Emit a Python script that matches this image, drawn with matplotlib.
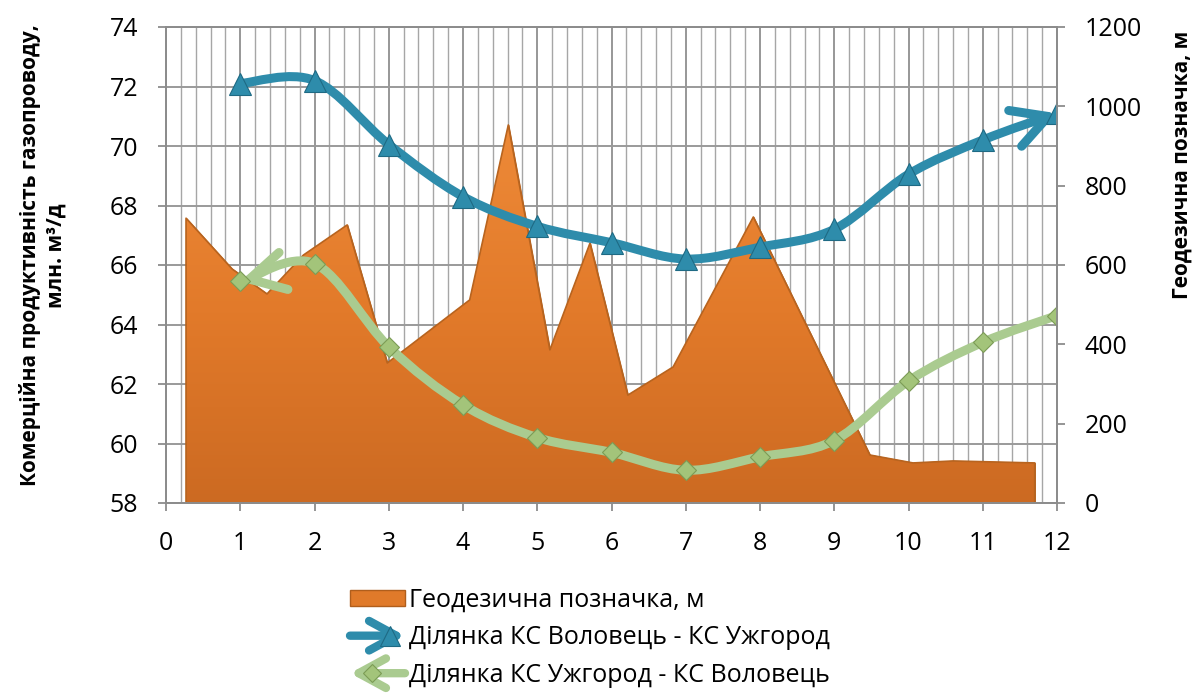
import numpy as np
import matplotlib.pyplot as plt
from matplotlib.path import Path
from matplotlib.patches import FancyArrowPatch, ArrowStyle, Patch
from matplotlib.lines import Line2D
from matplotlib.legend_handler import HandlerBase
from matplotlib.colors import LinearSegmentedColormap
from matplotlib.ticker import MultipleLocator

plt.rcParams['font.family'] = ['Open Sans', 'DejaVu Sans']

# section points along the pipeline
x_pts = [1, 2, 3, 4, 5, 6, 7, 8, 9, 10, 11, 12]
# commercial throughput, mln m3/day
volovets_uzh = [72.1, 72.2, 70.05, 68.3, 67.3, 66.75, 66.2, 66.6, 67.2, 69.05, 70.2, 71.1]
uzh_volovets = [65.45, 66.05, 63.25, 61.3, 60.2, 59.7, 59.1, 59.55, 60.1, 62.1, 63.4, 64.3]

# terrain elevation profile, m
geo_x = [0.27, 0.89, 1.36, 1.85, 2.44, 2.98, 4.09, 4.61, 5.17, 5.71, 6.22, 6.83,
         7.91, 9.48, 10.06, 10.6, 11.7]
geo_m = [718, 590, 527, 625, 701, 353, 512, 953, 386, 655, 272, 343,
         721, 121, 101, 106, 101]

x_ticks = list(range(0, 13))
left_ticks = [58, 60, 62, 64, 66, 68, 70, 72, 74]
right_ticks = [0, 200, 400, 600, 800, 1000, 1200]

label_geo = 'Геодезична позначка, м'
label_vu = 'Ділянка КС Воловець - КС Ужгород'
label_uv = 'Ділянка КС Ужгород - КС Воловець'

BLUE = '#2E8CAB'
BLUE_EDGE = '#1E6A84'
GREEN = '#AACB90'
GREEN_MK = '#A3C47A'
GREEN_EDGE = '#7C9C56'
ORANGE = '#E07A2A'
GRID = '#A6A6A6'
AXIS = '#8C8C8C'


def smooth_path(xs, ys):
    # cubic bezier through the points (spreadsheet style smoothed line)
    pts = np.column_stack([xs, ys]).astype(float)
    n = len(pts)
    verts = [pts[0]]
    codes = [Path.MOVETO]
    for i in range(n - 1):
        p_prev = pts[max(i - 1, 0)]
        p0 = pts[i]
        p1 = pts[i + 1]
        p_next = pts[min(i + 2, n - 1)]
        verts += [p0 + (p1 - p_prev) / 6, p1 - (p_next - p0) / 6, p1]
        codes += [Path.CURVE4] * 3
    return Path(verts, codes)


def arrow_style(kind='->'):
    return ArrowStyle(kind, head_length=0.7, head_width=0.38)


class ArrowLineHandler(HandlerBase):
    def __init__(self, color, marker, mfc, mec, ms, reverse=False):
        super().__init__()
        self.color = color
        self.marker = marker
        self.mfc = mfc
        self.mec = mec
        self.ms = ms
        self.reverse = reverse

    def create_artists(self, legend, orig_handle, xdescent, ydescent,
                       width, height, fontsize, trans):
        y = height / 2 - ydescent
        x0, x1 = -xdescent, width - xdescent
        if self.reverse:
            start, end = (x1, y), (x0, y)
            mx = x0 + 0.4 * (x1 - x0)
        else:
            start, end = (x0, y), (x1, y)
            mx = x0 + 0.72 * (x1 - x0)
        arr = FancyArrowPatch(start, end, arrowstyle=arrow_style(), mutation_scale=28,
                              lw=6, color=self.color, shrinkA=0, shrinkB=0,
                              capstyle='round', joinstyle='round', transform=trans)
        mk = Line2D([mx], [y], marker=self.marker, ms=self.ms, mfc=self.mfc,
                    mec=self.mec, mew=0.8, ls='none', transform=trans)
        return [arr, mk]


fig = plt.figure(figsize=(11.98, 6.95), dpi=100)
ax = fig.add_axes([166 / 1198, 1 - 503 / 695, 891 / 1198, 476 / 695])
ax2 = ax.twinx()

ax.set_xlim(0, 12)
ax.set_ylim(58, 74)
ax2.set_ylim(0, 1200)

# grid: fine vertical lines, horizontal at left ticks
ax.set_axisbelow(True)
ax.xaxis.set_minor_locator(MultipleLocator(0.2))
ax.grid(which='minor', axis='x', color=GRID, lw=1.0)
ax.grid(which='major', axis='x', color='#8F8F8F', lw=1.3)
ax.grid(which='major', axis='y', color='#9A9A9A', lw=1.4)

# elevation area on the right scale, shaded top to bottom
area = ax.fill_between(geo_x, geo_m, 0, transform=ax2.transData,
                       facecolor=ORANGE, edgecolor='#B05E1C', lw=1.0, zorder=1)
shade = LinearSegmentedColormap.from_list('shade', ['#CC6A22', '#E27A2A', '#EE8A38'])
grad = np.linspace(0, 1, 256).reshape(-1, 1)
im = ax.imshow(grad, cmap=shade, origin='lower', aspect='auto',
               extent=(0, 12, 0, 960), transform=ax2.transData,
               interpolation='bicubic', zorder=1.1)
im.set_clip_path(area.get_paths()[0], ax2.transData)
outline = ax.fill_between(geo_x, geo_m, 0, transform=ax2.transData,
                          facecolor='none', edgecolor='#B8641F', lw=1.2, zorder=1.2)

# throughput curves with arrow heads
vu_curve = FancyArrowPatch(path=smooth_path(x_pts, volovets_uzh), arrowstyle=arrow_style('->'),
                           mutation_scale=36, lw=6.5, color=BLUE, capstyle='round',
                           joinstyle='round', transform=ax.transData, zorder=3)
ax.add_patch(vu_curve)
uv_curve = FancyArrowPatch(path=smooth_path(x_pts, uzh_volovets), arrowstyle=arrow_style('<-'),
                           mutation_scale=36, lw=6.5, color=GREEN, capstyle='round',
                           joinstyle='round', transform=ax.transData, zorder=3)
ax.add_patch(uv_curve)

vu_marks, = ax.plot(x_pts, volovets_uzh, ls='none', marker='^', ms=16,
                    mfc=BLUE, mec=BLUE_EDGE, mew=0.8, zorder=4)
uv_marks, = ax.plot(x_pts, uzh_volovets, ls='none', marker='D', ms=10,
                    mfc=GREEN_MK, mec=GREEN_EDGE, mew=0.8, zorder=4)

ax.set_xlim(0, 12)
ax.set_ylim(58, 74)

# axes styling
ax.set_xticks(x_ticks)
ax.set_yticks(left_ticks)
ax2.set_yticks(right_ticks)
for a in (ax, ax2):
    for sp in a.spines.values():
        sp.set_color(AXIS)
        sp.set_linewidth(1.3)
ax.tick_params(axis='x', which='major', length=6, width=1.3, color=AXIS, pad=14, labelsize=18)
ax.tick_params(axis='x', which='minor', length=0)
ax.tick_params(axis='y', length=6, width=1.3, color=AXIS, pad=14, labelsize=18)
ax2.tick_params(axis='y', length=6, width=1.3, color=AXIS, pad=14, labelsize=18)

ax.set_ylabel('Комерційна продуктивність газопроводу,\nмлн. м³/д', fontsize=15,
              fontweight='bold', linespacing=1.3, ha='center', va='center',
              rotation_mode='default')
ax.yaxis.set_label_coords(-0.138, 0.52)
ax2.set_ylabel(label_geo, fontsize=15, fontweight='bold', rotation=90,
               ha='center', va='center', rotation_mode='default')
ax2.yaxis.set_label_coords(1.14, 0.71)

geo_handle = Patch(facecolor=ORANGE, edgecolor='#B05E1C', lw=1)
handler_map = {
    vu_marks: ArrowLineHandler(BLUE, '^', BLUE, BLUE_EDGE, 14),
    uv_marks: ArrowLineHandler(GREEN, 'D', GREEN_MK, GREEN_EDGE, 9, reverse=True),
}
fig.legend([geo_handle, vu_marks, uv_marks], [label_geo, label_vu, label_uv],
           loc='upper left', bbox_to_anchor=(350 / 1198, 1 - 588 / 695),
           frameon=False, fontsize=18, handlelength=2.2, handleheight=0.6,
           handletextpad=0.15, labelspacing=0.5, borderpad=0, borderaxespad=0,
           handler_map=handler_map)

fig.savefig('out.png', dpi=100)
